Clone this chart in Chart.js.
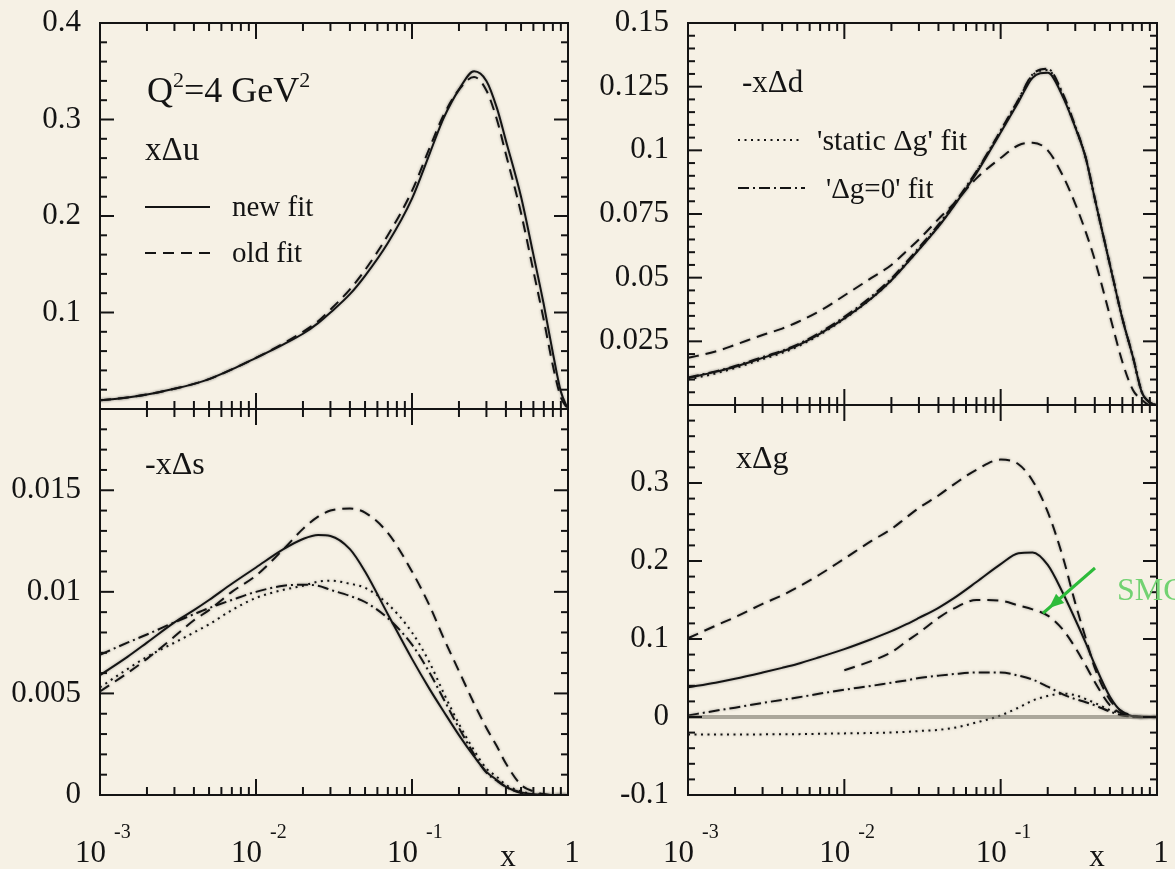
<!DOCTYPE html>
<html>
<head>
<meta charset="utf-8">
<title>Polarized parton distributions at Q2 = 4 GeV2</title>
<script src="https://cdn.jsdelivr.net/npm/chart.js@4.4.1/dist/chart.umd.min.js"></script>
<style>
    html, body { margin: 0; padding: 0; background: #f6f1e5; }
    body { width: 1175px; height: 869px; position: relative; overflow: hidden; }
    canvas { position: absolute; }
</style>
</head>
<body>
<canvas id="panel-u" width="600" height="420" style="left:0;top:0"></canvas>
<canvas id="panel-d" width="587" height="420" style="left:588px;top:0"></canvas>
<canvas id="panel-s" width="600" height="469" style="left:0;top:400px"></canvas>
<canvas id="panel-g" width="587" height="469" style="left:588px;top:400px"></canvas>
<script>
// x grid shared by every curve (log scale, 1e-3 .. 1)
const xValues = [0.001, 0.0015, 0.002, 0.003, 0.004, 0.005, 0.007, 0.01, 0.015, 0.02, 0.025, 0.03, 0.04, 0.05, 0.07,
    0.1, 0.13, 0.16, 0.2, 0.25, 0.3, 0.35, 0.4, 0.5, 0.6, 0.7, 0.8, 0.9, 1.0];

// x Delta u
const uNewFit = [0.009, 0.012, 0.015, 0.021, 0.026, 0.031, 0.041, 0.053, 0.067, 0.078, 0.089, 0.100, 0.119, 0.138, 0.172,
    0.218, 0.265, 0.302, 0.331, 0.350, 0.340, 0.312, 0.278, 0.220, 0.160, 0.108, 0.058, 0.018, 0];
const uOldFit = [0.009, 0.012, 0.015, 0.021, 0.026, 0.031, 0.041, 0.053, 0.068, 0.080, 0.091, 0.103, 0.124, 0.144, 0.180,
    0.226, 0.271, 0.305, 0.331, 0.344, 0.330, 0.300, 0.264, 0.203, 0.143, 0.092, 0.045, 0.012, 0];

// -x Delta d
const dNewFit = [0.0106, 0.013, 0.015, 0.0185, 0.021, 0.0233, 0.028, 0.034, 0.042, 0.049, 0.0555, 0.061, 0.070, 0.078, 0.091,
    0.107, 0.119, 0.1285, 0.1305, 0.121, 0.109, 0.097, 0.081, 0.055, 0.034, 0.019, 0.005, 0.001, 0];
const dOldFit = [0.0185, 0.021, 0.0236, 0.0275, 0.030, 0.0325, 0.037, 0.043, 0.050, 0.055, 0.0605, 0.065, 0.073, 0.079, 0.089,
    0.097, 0.102, 0.103, 0.100, 0.090, 0.079, 0.068, 0.057, 0.035, 0.017, 0.006, 0.002, 0, 0];
const dStaticFit = [0.0100, 0.0124, 0.0145, 0.0180, 0.0205, 0.0229, 0.0277, 0.0338, 0.0420, 0.0490, 0.0556, 0.0612, 0.0702, 0.0783, 0.0915,
    0.1075, 0.1198, 0.1295, 0.1315, 0.1215, 0.1092, 0.0970, 0.0810, 0.0550, 0.0340, 0.0190, 0.0050, 0.0010, 0];
const dZeroFit = [0.0108, 0.0132, 0.0153, 0.0188, 0.0213, 0.0237, 0.0285, 0.0346, 0.0428, 0.0497, 0.0562, 0.0618, 0.0708, 0.0788, 0.0918,
    0.1078, 0.1200, 0.1298, 0.1320, 0.1222, 0.1095, 0.0972, 0.0812, 0.0552, 0.0342, 0.0192, 0.0052, 0.0010, 0];

// -x Delta s
const sNewFit = [0.0059, 0.0068, 0.0075, 0.0085, 0.0091, 0.0096, 0.0104, 0.0112, 0.0121, 0.0126, 0.0128, 0.01275, 0.0121, 0.0110, 0.0089,
    0.0067, 0.0052, 0.0041, 0.00295, 0.0019, 0.00114, 0.00074, 0.0004, 0.00013, 0.00004, 0, 0, 0, 0];
const sOldFit = [0.0051, 0.0060, 0.0067, 0.0078, 0.0086, 0.0091, 0.0100, 0.0108, 0.0121, 0.0131, 0.0137, 0.0140, 0.0141, 0.0139, 0.0129,
    0.0110, 0.0093, 0.0077, 0.0061, 0.0045, 0.0033, 0.0024, 0.00155, 0.0005, 0.00018, 0.00005, 0, 0, 0];
const sStaticFit = [0.0053, 0.0062, 0.0068, 0.0075, 0.0080, 0.0084, 0.0091, 0.0097, 0.0101, 0.0103, 0.0105, 0.01055, 0.0104, 0.0102, 0.0094,
    0.0080, 0.0065, 0.0050, 0.0035, 0.0022, 0.0013, 0.0009, 0.0005, 0.00018, 0.00005, 0, 0, 0, 0];
const sZeroFit = [0.0069, 0.0075, 0.0079, 0.0085, 0.0089, 0.0092, 0.0096, 0.0100, 0.0103, 0.01035, 0.0103, 0.0101, 0.0098, 0.0095, 0.0087,
    0.0074, 0.0060, 0.0047, 0.0033, 0.0020, 0.0011, 0.0007, 0.0004, 0.0001, 0, 0, 0, 0, 0];

// x Delta g
const gOldFit = [0.101, 0.117, 0.128, 0.145, 0.156, 0.166, 0.183, 0.203, 0.226, 0.241, 0.256, 0.268, 0.284, 0.298, 0.317,
    0.330, 0.324, 0.303, 0.263, 0.205, 0.146, 0.101, 0.063, 0.022, 0.007, 0.002, 0, 0, 0];
const gNewFit = [0.038, 0.044, 0.049, 0.057, 0.063, 0.068, 0.077, 0.087, 0.100, 0.110, 0.119, 0.127, 0.140, 0.152, 0.173,
    0.196, 0.210, 0.211, 0.195, 0.159, 0.125, 0.095, 0.067, 0.026, 0.006, 0.001, 0, 0, 0];
const gSmcFit = [null, null, null, null, null, null, null, 0.060, 0.072, 0.083, 0.097, 0.108, 0.127, 0.139, 0.150,
    0.149, 0.143, 0.138, 0.130, 0.112, 0.089, 0.066, 0.045, 0.015, 0.004, 0.001, 0, 0, 0];
const gZeroFit = [0.002, 0.008, 0.012, 0.018, 0.022, 0.025, 0.030, 0.035, 0.040, 0.044, 0.047, 0.050, 0.053, 0.055, 0.057,
    0.057, 0.053, 0.048, 0.039, 0.029, 0.023, 0.019, 0.015, 0.007, 0.002, 0.0005, 0, 0, 0];
const gStaticFit = [-0.0225, -0.0225, -0.0225, -0.0223, -0.0221, -0.022, -0.0215, -0.021, -0.0205, -0.0198, -0.019, -0.018, -0.0165, -0.014, -0.007,
    0.002, 0.012, 0.021, 0.027, 0.030, 0.028, 0.023, 0.018, 0.009, 0.004, 0.001, 0, 0, 0];

// tick labels
const uTicks = [0.1, 0.2, 0.3, 0.4];
const dTicks = [0.025, 0.05, 0.075, 0.1, 0.125, 0.15];
const sTicks = [0, 0.005, 0.01, 0.015];
const gTicks = [-0.1, 0, 0.1, 0.2, 0.3];
const xTickValues = [0.001, 0.01, 0.1, 1];
const xTickBases = ['10', '10', '10', '1'];
const xTickExps = ['-3', '-2', '-1', ''];

const SERIF = "'Liberation Serif', 'Times New Roman', serif";
const INK = '#141414';

const DASH = {
    solid: [],
    dashed: [11, 7],
    dotted: [2, 4.5],
    dashDot: [11, 4, 2, 4],
};

document.addEventListener('DOMContentLoaded', function () {
    drawPanel('panel-u', {
        yMin: 0, yMax: 0.4, yTicks: uTicks, minorStep: 0.02, majorStep: 0.1,
        padding: { top: 23, right: 32, bottom: 11, left: 0 },
        series: [
            ['new fit', uNewFit, 'solid'],
            ['old fit', uOldFit, 'dashed'],
        ],
        texts: [
            { parts: [['Q', 0], ['2', 1], ['=4 GeV', 0], ['2', 1]], x: 147, y: 102, size: 36 },
            { parts: [['x\u0394u', 0]], x: 145, y: 160, size: 33 },
            { parts: [['new fit', 0]], x: 232, y: 216, size: 29 },
            { parts: [['old fit', 0]], x: 232, y: 262, size: 29 },
        ],
        legendLines: [
            { x1: 145, x2: 210, y: 207, dash: 'solid' },
            { x1: 145, x2: 210, y: 253, dash: 'dashed' },
        ],
    });

    drawPanel('panel-d', {
        yMin: 0, yMax: 0.15, yTicks: dTicks, minorStep: 0.005, majorStep: 0.025,
        padding: { top: 23, right: 18, bottom: 15, left: 0 },
        series: [
            ['new fit', dNewFit, 'solid'],
            ['old fit', dOldFit, 'dashed'],
            ["'static \u0394g' fit", dStaticFit, 'dotted'],
            ["'\u0394g=0' fit", dZeroFit, 'dashDot'],
        ],
        texts: [
            { parts: [['-x\u0394d', 0]], x: 742, y: 92, size: 31 },
            { parts: [["'static \u0394g' fit", 0]], x: 817, y: 150, size: 30 },
            { parts: [["'\u0394g=0' fit", 0]], x: 826, y: 198, size: 29 },
        ],
        legendLines: [
            { x1: 738, x2: 800, y: 140, dash: 'dotted' },
            { x1: 738, x2: 805, y: 188, dash: 'dashDot' },
        ],
    });

    drawPanel('panel-s', {
        yMin: 0, yMax: 0.019, yTicks: sTicks, minorStep: 0.001, majorStep: 0.005,
        padding: { top: 9, right: 32, bottom: 74, left: 0 },
        xLabels: true,
        series: [
            ['new fit', sNewFit, 'solid'],
            ['old fit', sOldFit, 'dashed'],
            ["'static \u0394g' fit", sStaticFit, 'dotted'],
            ["'\u0394g=0' fit", sZeroFit, 'dashDot'],
        ],
        texts: [
            { parts: [['-x\u0394s', 0]], x: 145, y: 474, size: 32 },
        ],
        legendLines: [],
    });

    drawPanel('panel-g', {
        yMin: -0.1, yMax: 0.4, yTicks: gTicks, minorStep: 0.02, majorStep: 0.1,
        padding: { top: 5, right: 18, bottom: 74, left: 0 },
        xLabels: true,
        zeroLine: true,
        series: [
            ['new fit', gNewFit, 'solid'],
            ['old fit', gOldFit, 'dashed'],
            ['SMC', gSmcFit, 'dashed'],
            ["'\u0394g=0' fit", gZeroFit, 'dashDot'],
            ["'static \u0394g' fit", gStaticFit, 'dotted'],
        ],
        texts: [
            { parts: [['x\u0394g', 0]], x: 736, y: 468, size: 32 },
            { parts: [['SMC', 0]], x: 1117, y: 600, size: 32, color: '#72d272' },
        ],
        legendLines: [],
        arrow: { x1: 1095, y1: 568, x2: 1049, y2: 608 },
    });
});

// canvas pixels are page pixels shifted by the canvas offset
function pageToCanvas(chart) {
    const c = chart.canvas;
    return { dx: c.offsetLeft, dy: c.offsetTop };
}

const lineHalo = {
    id: 'lineHalo',
    beforeDatasetDraw(chart) {
        chart.ctx.save();
        chart.ctx.shadowColor = 'rgba(0,0,0,0.35)';
        chart.ctx.shadowBlur = 3;
    },
    afterDatasetDraw(chart) {
        chart.ctx.restore();
    }
};

const frameTicks = {
    id: 'frameTicks',
    afterDatasetsDraw(chart, args, opts) {
        const { ctx, chartArea: a } = chart;
        const xs = chart.scales.x;
        const ys = chart.scales.y;

        const seg = (x1, y1, x2, y2) => {
            ctx.beginPath();
            ctx.moveTo(x1, y1);
            ctx.lineTo(x2, y2);
            ctx.stroke();
        };

        ctx.save();
        if (opts.zeroLine) {
            const y0 = ys.getPixelForValue(0);
            ctx.strokeStyle = 'rgba(110,105,95,0.55)';
            ctx.lineWidth = 4;
            seg(a.left, y0, a.right, y0);
        }

        ctx.strokeStyle = INK;
        ctx.lineWidth = 2;
        ctx.strokeRect(a.left, a.top, a.right - a.left, a.bottom - a.top);

        // inward y ticks, both sides
        const n = Math.round((ys.max - ys.min) / opts.minorStep);
        for (let i = 1; i < n; i++) {
            const v = ys.min + i * opts.minorStep;
            const r = v / opts.majorStep;
            const major = Math.abs(r - Math.round(r)) < 1e-6;
            const len = major ? 14 : 7;
            const py = ys.getPixelForValue(v);
            seg(a.left, py, a.left + len, py);
            seg(a.right, py, a.right - len, py);
        }

        // inward x ticks on top and bottom
        for (let d = -3; d < 0; d++) {
            for (let m = 1; m <= 9; m++) {
                const v = m * Math.pow(10, d);
                if (v <= xs.min) continue;
                const px = xs.getPixelForValue(v);
                const len = m === 1 ? 16 : 8;
                seg(px, a.top, px, a.top + len);
                seg(px, a.bottom, px, a.bottom - len);
            }
        }
        ctx.restore();
    }
};

function drawRich(ctx, parts, x, y, size, color) {
    let cx = x;
    ctx.fillStyle = color || INK;
    ctx.textAlign = 'left';
    ctx.textBaseline = 'alphabetic';
    parts.forEach(([text, sup]) => {
        const fs = sup ? Math.round(size * 0.62) : size;
        ctx.font = `${fs}px ${SERIF}`;
        ctx.fillText(text, cx, sup ? y - size * 0.42 : y);
        cx += ctx.measureText(text).width;
    });
}

const panelText = {
    id: 'panelText',
    afterDraw(chart, args, opts) {
        const ctx = chart.ctx;
        const { dx, dy } = pageToCanvas(chart);
        ctx.save();
        ctx.translate(-dx, -dy);

        (opts.legendLines || []).forEach(l => {
            ctx.save();
            ctx.strokeStyle = INK;
            ctx.lineWidth = 2;
            ctx.setLineDash(DASH[l.dash]);
            ctx.beginPath();
            ctx.moveTo(l.x1, l.y);
            ctx.lineTo(l.x2, l.y);
            ctx.stroke();
            ctx.restore();
        });

        (opts.texts || []).forEach(t => drawRich(ctx, t.parts, t.x, t.y, t.size, t.color));

        if (opts.arrow) {
            const { x1, y1, x2, y2 } = opts.arrow;
            const ang = Math.atan2(y2 - y1, x2 - x1);
            ctx.strokeStyle = '#2dbb3a';
            ctx.fillStyle = '#2dbb3a';
            ctx.lineWidth = 3;
            ctx.beginPath();
            ctx.moveTo(x1, y1);
            ctx.lineTo(x2 + 8 * Math.cos(ang), y2 + 8 * Math.sin(ang));
            ctx.stroke();
            ctx.beginPath();
            ctx.moveTo(x2, y2);
            ctx.lineTo(x2 - 16 * Math.cos(ang - 0.4), y2 - 16 * Math.sin(ang - 0.4));
            ctx.lineTo(x2 - 16 * Math.cos(ang + 0.4), y2 - 16 * Math.sin(ang + 0.4));
            ctx.closePath();
            ctx.fill();
        }
        ctx.restore();

        // x tick labels with superscript exponents
        if (opts.xLabels) {
            const xs = chart.scales.x;
            const a = chart.chartArea;
            const base = a.bottom + 67;
            ctx.save();
            ctx.fillStyle = INK;
            ctx.textBaseline = 'alphabetic';
            xTickValues.forEach((v, i) => {
                const px = xs.getPixelForValue(v);
                ctx.font = `31px ${SERIF}`;
                if (xTickExps[i] === '') {
                    ctx.textAlign = 'center';
                    ctx.fillText(xTickBases[i], px + 4, base);
                } else {
                    ctx.textAlign = 'right';
                    ctx.fillText(xTickBases[i], px + 6, base);
                    ctx.font = `20px ${SERIF}`;
                    ctx.textAlign = 'left';
                    ctx.fillText(xTickExps[i], px + 14, base - 24);
                }
            });
            ctx.font = `31px ${SERIF}`;
            ctx.textAlign = 'center';
            ctx.fillText('x', a.right - 60, base + 4);
            ctx.restore();
        }
    }
};

function drawPanel(canvasId, cfg) {
    const canvas = document.getElementById(canvasId);
    if (!canvas) {
        console.error(`Canvas with ID '${canvasId}' not found.`);
        return;
    }

    const datasets = cfg.series.map(([label, values, style]) => ({
        label,
        data: xValues.map((x, i) => ({ x, y: values[i] })),
        borderColor: INK,
        borderWidth: 2,
        borderDash: DASH[style],
        pointRadius: 0,
        fill: false,
        cubicInterpolationMode: 'monotone',
        spanGaps: false,
    }));

    canvas.chartInstance = new Chart(canvas.getContext('2d'), {
        type: 'line',
        data: { datasets },
        options: {
            responsive: false,
            animation: false,
            layout: { padding: cfg.padding },
            plugins: {
                legend: { display: false },
                tooltip: { enabled: false },
                frameTicks: { minorStep: cfg.minorStep, majorStep: cfg.majorStep, zeroLine: !!cfg.zeroLine },
                panelText: {
                    texts: cfg.texts,
                    legendLines: cfg.legendLines,
                    arrow: cfg.arrow,
                    xLabels: !!cfg.xLabels,
                },
            },
            scales: {
                x: {
                    type: 'logarithmic',
                    min: 0.001,
                    max: 1,
                    display: false,
                },
                y: {
                    type: 'linear',
                    min: cfg.yMin,
                    max: cfg.yMax,
                    grid: { display: false, drawTicks: false },
                    border: { display: false },
                    ticks: {
                        padding: 19,
                        color: INK,
                        font: { family: SERIF, size: 31 },
                        callback: value => String(value),
                    },
                    afterBuildTicks: scale => {
                        scale.ticks = cfg.yTicks.map(v => ({ value: v }));
                    },
                    afterFit: scale => {
                        scale.width = 100;
                        scale.paddingTop = 0;
                        scale.paddingBottom = 0;
                    },
                },
            },
        },
        plugins: [lineHalo, frameTicks, panelText],
    });
}
</script>
</body>
</html>
